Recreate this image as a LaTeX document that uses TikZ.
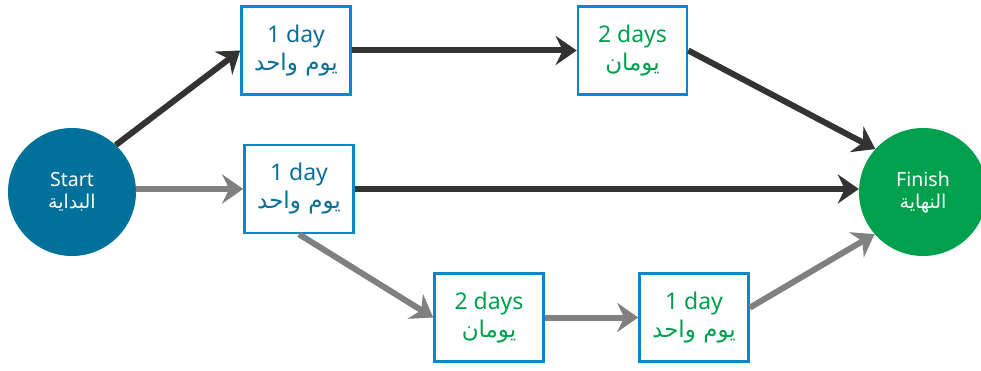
\documentclass[tikz,border=0pt]{standalone}
\usepackage{fontspec}
\setmainfont{Noto Sans}
\newfontfamily\arabicfont[Script=Arabic]{DejaVu Sans}
\TeXXeTstate=1
\usetikzlibrary{arrows.meta}
\definecolor{darkline}{HTML}{333333}
\definecolor{grayline}{HTML}{808080}
\definecolor{startblue}{HTML}{00719A}
\definecolor{finishgreen}{HTML}{00A04F}
\definecolor{boxborder}{HTML}{0A86D0}
\definecolor{textblue}{HTML}{0B6F97}
\definecolor{textgreen}{HTML}{00A04F}
\newcommand{\boxar}[1]{{\fontsize{23}{28}\selectfont\arabicfont\beginR #1\endR}}
\newcommand{\circar}[1]{{\fontsize{19}{22}\selectfont\arabicfont\beginR #1\endR}}
\tikzset{
  taskbox/.style={draw=boxborder, line width=2.6pt, fill=white, minimum width=109pt, minimum height=88pt, inner sep=0pt, align=center, font=\fontsize{23}{28}\selectfont},
  endcircle/.style={circle, minimum size=128pt, inner sep=0pt, text=white, align=center, font=\fontsize{19.5}{22}\selectfont},
  conn/.style={line width=6pt, -{Stealth[length=21pt, width=29pt, inset=7pt]}},
  darkconn/.style={conn, draw=darkline, color=darkline},
  grayconn/.style={conn, draw=grayline, color=grayline},
}
\begin{document}
\begin{tikzpicture}[x=1pt, y=1pt]
\useasboundingbox (0,0) rectangle (981,370);
\clip (0,0) rectangle (981,370);
\node[endcircle, fill=startblue] (S) at (72,178) {Start\\\circar{البداية}};
\node[endcircle, fill=finishgreen] (F) at (923,178) {Finish\\\circar{النهاية}};
\node[taskbox, text=textblue] (A) at (296,319.5) {1 day\\\boxar{يوم واحد}};
\node[taskbox, text=textgreen] (C) at (632.5,319.5) {2 days\\\boxar{يومان}};
\node[taskbox, text=textblue] (B) at (299,181) {1 day\\\boxar{يوم واحد}};
\node[taskbox, text=textgreen] (D) at (489,52.5) {2 days\\\boxar{يومان}};
\node[taskbox, text=textgreen] (E) at (694,52.5) {1 day\\\boxar{يوم واحد}};
\draw[darkconn] (S.47) -- (A.west);
\draw[grayconn] (S.east |- B.west) -- (B.west);
\draw[darkconn] (A.east) -- (C.west);
\draw[darkconn] (C.east) -- (F.138);
\draw[darkconn] (B.east) -- (B.east -| F.west);
\draw[grayconn] (B.south) -- (D.west);
\draw[grayconn] (D.east) -- (E.west);
\draw[grayconn] (E.10) -- (F.221);
\end{tikzpicture}
\end{document}
